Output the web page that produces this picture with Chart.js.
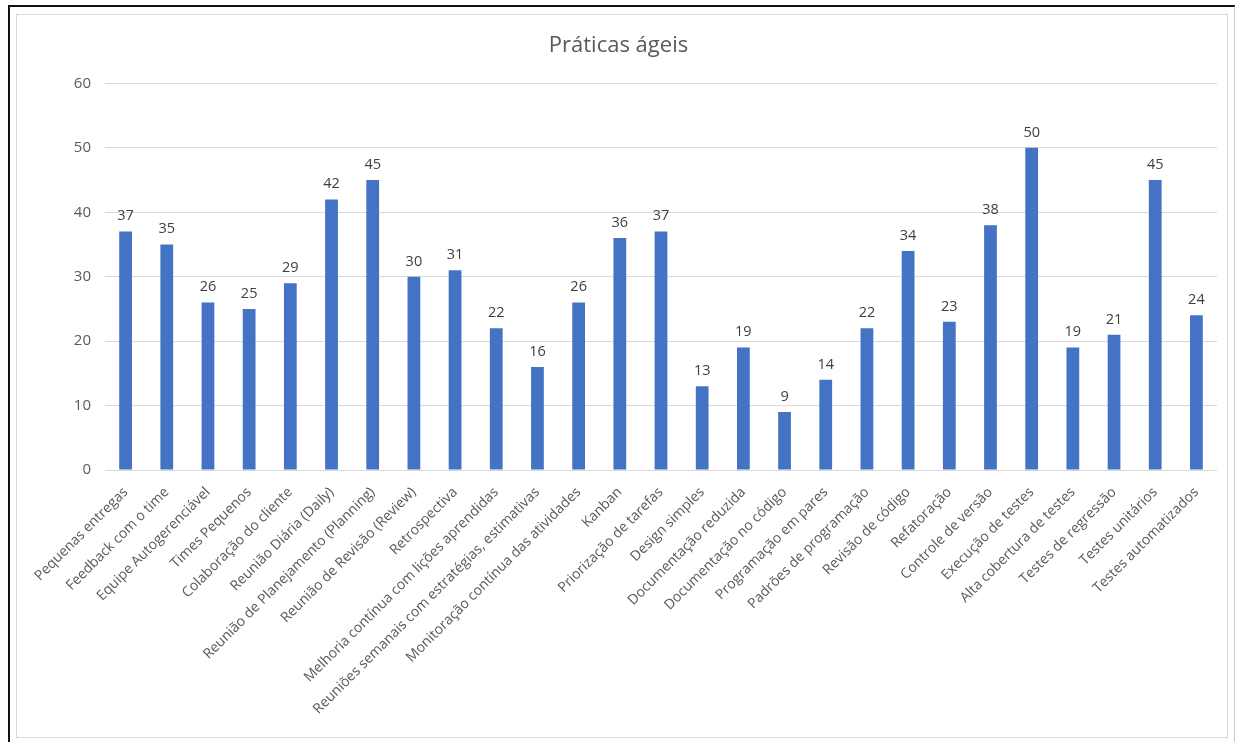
<!DOCTYPE html>
<html>
<head>
<meta charset="utf-8">
<title>Práticas ágeis</title>
<script src="https://cdn.jsdelivr.net/npm/chart.js@4.4.1/dist/chart.umd.min.js"></script>
<style>
  html, body { margin: 0; padding: 0; background: #fff; }
  #wrap { position: relative; width: 1235px; height: 742px; overflow: hidden; }
  #outer { position: absolute; left: 8px; top: 5px; width: 1224px; height: 760px;
           border-left: 2px solid #111; border-top: 2px solid #111; border-right: 2px solid #c8c8c8; }
  #inner { position: absolute; left: 16px; top: 14px; width: 1210px; height: 722px;
           border: 1px solid #d9d9d9; }
  canvas { position: absolute; left: 0; top: 0; }
</style>
</head>
<body>
<div id="wrap">
  <div id="outer"></div>
  <div id="inner"></div>
  <canvas id="chart" width="1235" height="742"></canvas>
</div>
<script>
const chartTitle = "Práticas ágeis";

const categories = [
  "Pequenas entregas",
  "Feedback com o time",
  "Equipe Autogerenciável",
  "Times Pequenos",
  "Colaboração do cliente",
  "Reunião Diária (Daily)",
  "Reunião de Planejamento (Planning)",
  "Reunião de Revisão (Review)",
  "Retrospectiva",
  "Melhoria contínua com lições aprendidas",
  "Reuniões semanais com estratégias, estimativas",
  "Monitoração contínua das atividades",
  "Kanban",
  "Priorização de tarefas",
  "Design simples",
  "Documentação reduzida",
  "Documentação no código",
  "Programação em pares",
  "Padrões de programação",
  "Revisão de código",
  "Refatoração",
  "Controle de versão",
  "Execução de testes",
  "Alta cobertura de testes",
  "Testes de regressão",
  "Testes unitários",
  "Testes automatizados"
];

const values = [37, 35, 26, 25, 29, 42, 45, 30, 31, 22, 16, 26, 36, 37, 13, 19, 9, 14, 22, 34, 23, 38, 50, 19, 21, 45, 24];

const yTicks = [0, 10, 20, 30, 40, 50, 60];

const barColor = "#4472c4";
const textColor = "#595959";
const gridColor = "#d9d9d9";

// draws the value above each bar
const valueLabels = {
  id: "valueLabels",
  afterDatasetsDraw(chart) {
    const ctx = chart.ctx;
    const meta = chart.getDatasetMeta(0);
    ctx.save();
    ctx.font = "14.5px 'Open Sans'";
    ctx.fillStyle = "#404040";
    ctx.textAlign = "center";
    ctx.textBaseline = "bottom";
    meta.data.forEach((bar, i) => {
      ctx.fillText(String(values[i]), bar.x, bar.y - 8);
    });
    ctx.restore();
  }
};

const ctx = document.getElementById("chart").getContext("2d");
const chart = new Chart(ctx, {
  type: "bar",
  data: {
    labels: categories,
    datasets: [{
      label: chartTitle,
      data: values,
      backgroundColor: barColor,
      barPercentage: 0.62,
      categoryPercentage: 0.5
    }]
  },
  options: {
    responsive: false,
    animation: false,
    layout: { padding: { left: 20, right: 18, top: 20, bottom: 0 } },
    plugins: {
      legend: { display: false },
      tooltip: { enabled: false },
      title: {
        display: true,
        text: chartTitle,
        color: textColor,
        font: { family: "'Open Sans'", size: 22, weight: "normal" },
        padding: { top: 13, bottom: 24 }
      }
    },
    scales: {
      x: {
        grid: { display: false },
        border: { display: false },
        ticks: {
          color: textColor,
          font: { family: "'Open Sans'", size: 14 },
          maxRotation: 45,
          minRotation: 45,
          autoSkip: false,
          padding: 6
        },
        afterFit(scale) { scale.height = 272; }
      },
      y: {
        min: 0,
        max: 60,
        grid: { color: gridColor, drawTicks: false },
        border: { display: false },
        afterBuildTicks(scale) { scale.ticks = yTicks.map(v => ({ value: v })); },
        ticks: {
          color: textColor,
          font: { family: "'Open Sans'", size: 15 },
          padding: 14
        },
        afterFit(scale) { scale.width = 85; }
      }
    }
  },
  plugins: [valueLabels]
});
</script>
</body>
</html>
